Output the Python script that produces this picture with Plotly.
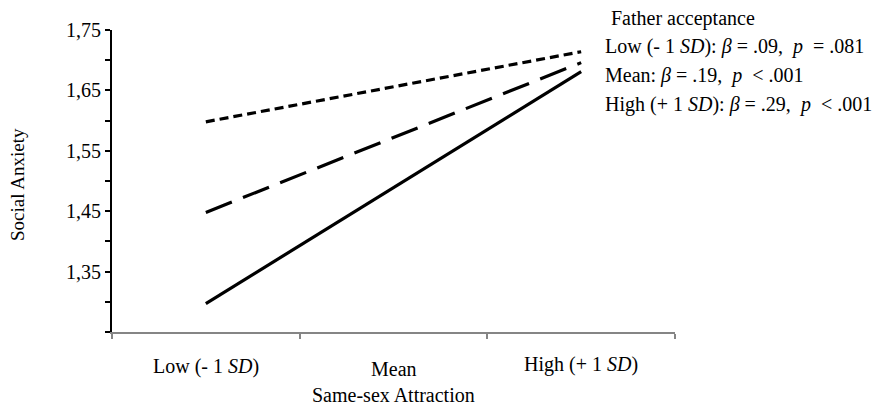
import plotly.graph_objects as go

# ---- data ----
categories = ["Low (- 1 <i>SD</i>)", "Mean", "High (+ 1 <i>SD</i>)"]
cat_pos = [0.5, 1.5, 2.5]
series_names = ["Low (- 1 SD)", "Mean", "High (+ 1 SD)"]
low_accept = [1.598, 1.714]     # dotted
mean_accept = [1.448, 1.696]    # dashed
high_accept = [1.297, 1.681]    # solid
line_x = [0.5, 2.5]
y_tickvals = [1.25, 1.30, 1.35, 1.40, 1.45, 1.50, 1.55, 1.60, 1.65, 1.70, 1.75]
y_ticktext = ["", "", "1,35", "", "1,45", "", "1,55", "", "1,65", "", "1,75"]
legend_title = "Father acceptance"
legend_lines = [
    "Low (- 1 <i>SD</i>): <i>β</i> = .09,\u00a0 <i>p</i>\u00a0 = .081",
    "Mean: <i>β</i> = .19,\u00a0 <i>p</i>\u00a0 &lt; .001",
    "High (+ 1 <i>SD</i>): <i>β</i> = .29,\u00a0 <i>p</i>\u00a0 &lt; .001",
]

FONT = "Liberation Serif, Times New Roman, serif"
W, H = 881, 406
L, R, T, B = 112, 206, 30, 74
PW, PH = W - L - R, H - T - B
FS = 20

def px_x(x):
    return (x - L) / PW

def px_y(y):
    return (H - B - y) / PH

fig = go.Figure()
fig.add_trace(go.Scatter(x=line_x, y=low_accept, mode="lines", name=series_names[0],
                         line=dict(color="black", width=3.2, dash="9px,5px")))
fig.add_trace(go.Scatter(x=line_x, y=mean_accept, mode="lines", name=series_names[1],
                         line=dict(color="black", width=3.2, dash="28px,12px")))
fig.add_trace(go.Scatter(x=line_x, y=high_accept, mode="lines", name=series_names[2],
                         line=dict(color="black", width=3.2)))

fig.update_layout(
    width=W, height=H,
    margin=dict(l=L, r=R, t=T, b=B),
    paper_bgcolor="white", plot_bgcolor="white",
    showlegend=False,
    font=dict(family=FONT, size=FS, color="black"),
    xaxis=dict(range=[0, 3], showgrid=False, zeroline=False,
               showline=True, linecolor="#858585", linewidth=2,
               ticks="outside", ticklen=5, tickwidth=1.5, tickcolor="#858585",
               tickvals=[0, 1, 2, 3], showticklabels=False),
    yaxis=dict(range=[1.25, 1.75], showgrid=False, zeroline=False,
               showline=True, linecolor="black", linewidth=2,
               ticks="outside", ticklen=5, tickwidth=1.5, tickcolor="black",
               tickvals=y_tickvals, ticktext=y_ticktext,
               tickfont=dict(family=FONT, size=FS, color="black")),
)

ann = []
label_y = [366, 369, 364]
for c, xp, ly in zip(categories, cat_pos, label_y):
    ann.append(dict(x=xp, xref="x", y=px_y(ly), yref="paper", text=c, showarrow=False,
                    xanchor="center", yanchor="middle", font=dict(size=FS)))
ann.append(dict(x=1.5, xref="x", y=px_y(395), yref="paper", text="Same-sex Attraction",
                showarrow=False, xanchor="center", yanchor="middle", font=dict(size=FS)))
ann.append(dict(x=px_x(17), xref="paper", y=px_y(185), yref="paper", text="Social Anxiety",
                textangle=-90, showarrow=False, xanchor="center", yanchor="middle",
                font=dict(size=19)))
ann.append(dict(x=px_x(609), xref="paper", y=px_y(18), yref="paper", text=legend_title,
                showarrow=False, xanchor="left", yanchor="middle", font=dict(size=FS)))
for txt, ly in zip(legend_lines, [46, 75, 104]):
    ann.append(dict(x=px_x(603), xref="paper", y=px_y(ly), yref="paper", text=txt,
                    showarrow=False, xanchor="left", yanchor="middle", font=dict(size=FS)))
fig.update_layout(annotations=ann)

fig.write_html("out.html",
               config={"displayModeBar": False},
               post_script="document.body.style.margin='0';document.body.style.overflow='hidden';")
